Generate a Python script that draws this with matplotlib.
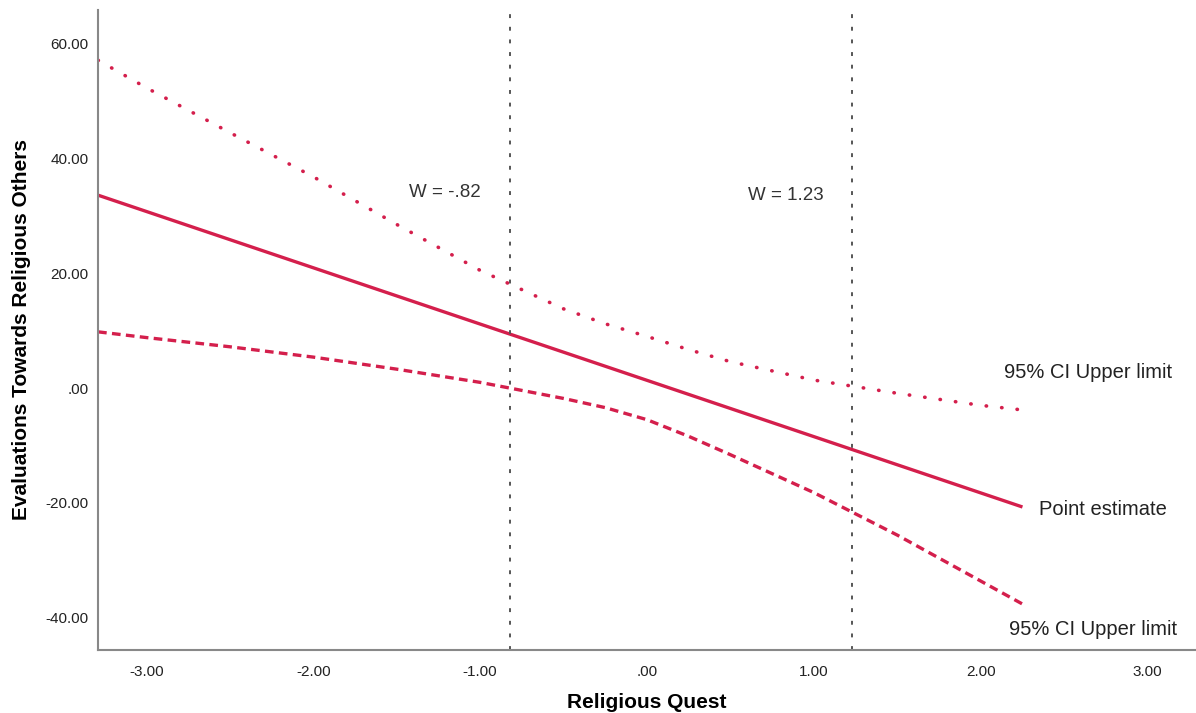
import matplotlib.pyplot as plt

# data
x_ticks = [-3, -2, -1, 0, 1, 2, 3]
x_tick_labels = ["-3.00", "-2.00", "-1.00", ".00", "1.00", "2.00", "3.00"]
y_ticks = [-40, -20, 0, 20, 40, 60]
y_tick_labels = ["-40.00", "-20.00", ".00", "20.00", "40.00", "60.00"]

point_x = [-3.29, 2.25]
point_y = [33.6, -20.7]

ci_x = [-3.29, -3.0, -2.5, -2.0, -1.5, -1.0, -0.5, -0.25, 0.0, 0.25, 0.5, 1.0, 1.5, 2.0, 2.25]
ci_upper = [57.1, 52.3, 44.5, 36.8, 28.5, 20.5, 13.8, 11.2, 9.0, 6.7, 4.6, 1.4, -0.9, -3.0, -3.8]
ci_lower = [9.8, 8.8, 7.2, 5.4, 3.3, 1.0, -1.8, -3.4, -5.5, -8.4, -11.6, -18.2, -25.6, -33.6, -37.6]

w_values = [-0.82, 1.23]
w_labels = ["W = -.82", "W = 1.23"]

red = "#d41f4c"
plt.rcParams['font.family'] = ['Liberation Sans', 'DejaVu Sans']

fig = plt.figure(figsize=(11.96, 7.13), dpi=100)
ax = fig.add_axes([0.082, 0.0884, 0.918, 0.898])

ax.plot(point_x, point_y, color=red, lw=2.4, solid_capstyle='butt')
ax.plot(ci_x, ci_upper, color=red, lw=2.6, linestyle=(0, (0.1, 4.2)), dash_capstyle='round')
ax.plot(ci_x, ci_lower, color=red, lw=2.4, linestyle=(0, (2.6, 1.6)))

for w in w_values:
    ax.axvline(w, color="#555555", lw=1.4, linestyle=(0, (2, 4.5)))

ax.text(-1.21, 34.1, w_labels[0], ha='center', va='center', fontsize=13.5, color="#333333")
ax.text(0.83, 33.6, w_labels[1], ha='center', va='center', fontsize=13.5, color="#333333")

ax.text(2.14, 2.8, "95% CI Upper limit", ha='left', va='center', fontsize=14.5, color="#222222")
ax.text(2.35, -21.1, "Point estimate", ha='left', va='center', fontsize=14.5, color="#222222")
ax.text(2.17, -42.0, "95% CI Upper limit", ha='left', va='center', fontsize=14.5, color="#222222")

ax.set_xlim(-3.29, 3.29)
ax.set_ylim(-45.6, 65.9)
ax.set_xticks(x_ticks)
ax.set_xticklabels(x_tick_labels)
ax.set_yticks(y_ticks)
ax.set_yticklabels(y_tick_labels)
ax.tick_params(length=0, labelsize=11, labelcolor="#222222")
ax.tick_params(axis='x', pad=11)
ax.tick_params(axis='y', pad=7)

for s in ['top', 'right']:
    ax.spines[s].set_visible(False)
for s in ['left', 'bottom']:
    ax.spines[s].set_color("#888888")
    ax.spines[s].set_linewidth(1.5)

ax.set_xlabel("Religious Quest", fontsize=15, fontweight='bold', labelpad=10)
ax.set_ylabel("Evaluations Towards Religious Others", fontsize=15, fontweight='bold', labelpad=10)

fig.savefig("out.png", dpi=100)
